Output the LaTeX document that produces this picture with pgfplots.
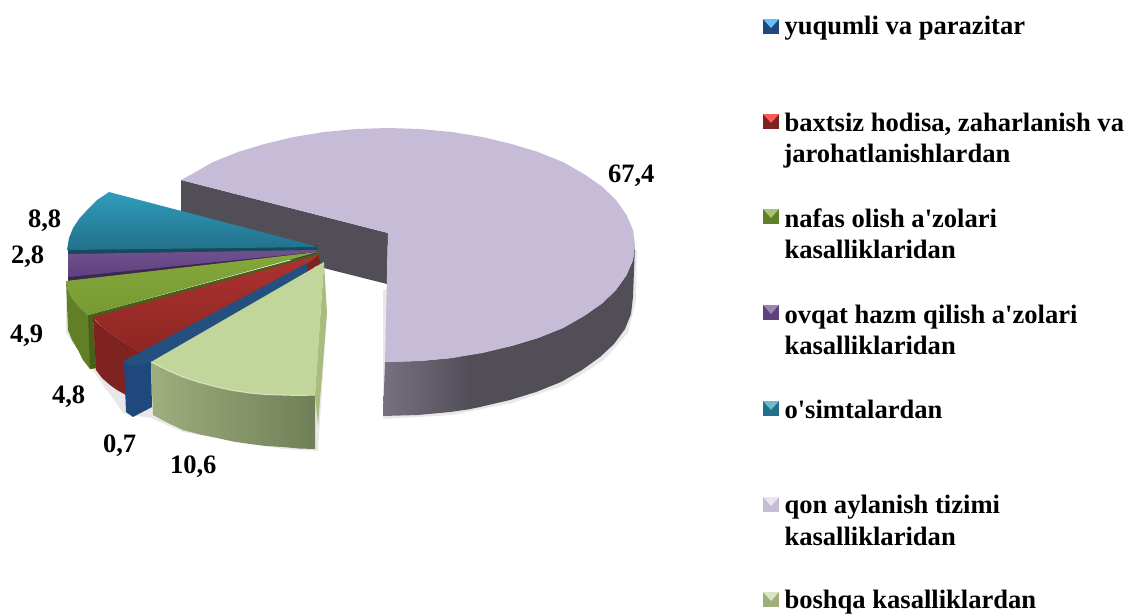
\documentclass[border=0pt]{standalone}
\usepackage{pgfplots}
\pgfplotsset{compat=1.18}
\usepackage{fontspec}
\setmainfont{Liberation Serif}
\definecolor{lavT}{HTML}{C7BCD8}
\definecolor{lavD}{HTML}{524E58}
\definecolor{lavL}{HTML}{76717F}
\definecolor{limT}{HTML}{C2D69B}
\definecolor{limS}{HTML}{A9BB7E}
\definecolor{limL}{HTML}{9EAE7C}
\definecolor{limD}{HTML}{717F58}
\definecolor{bluT}{HTML}{24507F}
\definecolor{bluS}{HTML}{1F497D}
\definecolor{redT}{HTML}{AD322F}
\definecolor{redB}{HTML}{8C2623}
\definecolor{redS}{HTML}{7E2320}
\definecolor{grnT}{HTML}{84A83A}
\definecolor{grnB}{HTML}{779A34}
\definecolor{grnS}{HTML}{617F26}
\definecolor{grnX}{HTML}{48601A}
\definecolor{purT}{HTML}{71508F}
\definecolor{purB}{HTML}{5F417F}
\definecolor{purX}{HTML}{3B2850}
\definecolor{teaT}{HTML}{2F9DBC}
\definecolor{teaB}{HTML}{23708A}
\definecolor{teaX}{HTML}{174A5A}
\tikzset{lab/.style={font=\bfseries\fontsize{20}{24}\selectfont, inner sep=0pt, outer sep=0pt, anchor=base west, text=black}}
\begin{document}
\begin{tikzpicture}
\begin{axis}[
  scale only axis, width=845.25bp, height=460.5bp,
  xmin=0, xmax=1127, ymin=0, ymax=614, y dir=reverse,
  hide axis, clip=false,
]
% invisible extent of the picture
\addplot[draw=none] coordinates {(0,0)(1127,614)};
% soft shadows
\addplot[fill=black!9, draw=none] coordinates {(637,250)(636,300)(628,333)(604,360)(565,385)(512,403)(452,415)(383,419)(383,290)} -- cycle;
\addplot[fill=black!9, draw=none] coordinates {(327,313)(318,451)(283,449)(183,432)(151,418)(124,414)(94,372)(66,333)(66,300)} -- cycle;
% lavender slice (qon aylanish tizimi) 67,4
\addplot[fill=lavD, draw=none] coordinates {(181,180)(388,233)(387,284)(181,232)} -- cycle;
\addplot[fill=lavD, draw=none] coordinates {(470,354)(511.5,346)(538,338)(563,328)(584,316)(602,303.5)(616,290)(626.6,275)(633,260)(635,245)(633,297)(631,314)(625,329)(614,344)(600,357)(582,370)(561,382)(536,392)(510,400)(480,407)(470,409)} -- cycle;
\addplot[left color=lavL, right color=lavD, draw=none] coordinates {(385,362)(420,361)(452,358)(471,354)(471,409)(450,412)(418,415)(383,416)} -- cycle;
\addplot[fill=lavT, draw=none] coordinates {(388,233)(181,180)(192,174)(213,162)(238,152)(264.5,144)(293.5,137)(324,132)(356,129)(388,128)(420,129)(452,132)(482.5,137)(511.5,144)(538,152)(563,162)(584,174)(602,186.5)(616,200)(626.6,215)(633,230)(635,245)(633,260)(626.6,275)(616,290)(602,303.5)(584,316)(563,328)(538,338)(511.5,346)(482.5,353)(452,358)(420,361)(385,362)} -- cycle;
% teal slice (o'simtalardan) 8,8
\addplot[fill=teaX, draw=none] coordinates {(68,248)(317,245)(317,251)(68,255)} -- cycle;
\addplot[top color=teaT, bottom color=teaB, draw=none] coordinates {(315,246)(109,192)(97,200)(87,210)(79,219)(73,228)(69,238)(67,250)(317,247)} -- cycle;
% purple slice (ovqat hazm qilish) 2,8
\addplot[fill=purX, draw=none] coordinates {(68,275)(316,250)(318,256)(68,283)} -- cycle;
\addplot[top color=purT, bottom color=purB, draw=none] coordinates {(68,254)(317,250)(316,252)(68,277)} -- cycle;
% green slice (nafas olish) 4,9
\addplot[fill=grnS, draw=none] coordinates {(66,281)(68,290)(72,298)(79,307)(88,315)(93,317)(96,368)(90,369)(83,360)(78,350)(72,340)(68,330)} -- cycle;
\addplot[fill=grnX, draw=none] coordinates {(88,315)(318,253)(320,260)(93,320)(96,368)(90,369)} -- cycle;
\addplot[top color=grnT, bottom color=grnB, draw=none] coordinates {(318,252)(66,281)(68,290)(72,298)(79,307)(88,315)} -- cycle;
% red slice (baxtsiz hodisa) 4,8
\addplot[fill=redS, draw=none] coordinates {(93,318)(101,326)(110,333)(123,342)(140,352)(140,398)(126,395)(117,390)(110,385)(102,378)(96,370)} -- cycle;
\addplot[top color=redT, bottom color=redB, draw=none] coordinates {(319,255)(93,317)(101,326)(110,333)(123,342)(138,351)(140,356)(307,268)} -- cycle;
\addplot[fill=redS, draw=none] coordinates {(319,255)(320,263)(307,273)(307,264)} -- cycle;
% blue slice (yuqumli va parazitar) 0,7
\addplot[fill=bluS, draw=none] coordinates {(124,361)(131,365)(151,362)(152,407)(133,417)(126,412)} -- cycle;
\addplot[fill=bluT, draw=none] coordinates {(124,361)(307,263)(307,273)(151,363)(131,366)} -- cycle;
% lime slice (boshqa) 10,6
\addplot[fill=limS, draw=none] coordinates {(324,262)(327,313)(318,425)(315,395)} -- cycle;
\addplot[left color=limL, right color=limD, draw=none] coordinates {(151,362)(167,370)(183,377)(200,382.5)(217,387)(233,390.5)(250,393)(266,394.5)(283,395)(299,395.5)(315,395)(315,449)(299,448.5)(283,447)(266,446)(250,444)(233,441.5)(217,438)(200,434.5)(183,430)(168,423)(153,415)} -- cycle;
\addplot[fill=limT, draw=none] coordinates {(324,262)(151,362)(167,370)(183,377)(200,382.5)(217,387)(233,390.5)(250,393)(266,394.5)(283,395)(299,395.5)(315,395)} -- cycle;
\addplot[draw=limT!60!white, line width=0.75pt] coordinates {(151,362)(167,370)(183,377)(200,382.5)(217,387)(233,390.5)(250,393)(266,394.5)(283,395)(299,395.5)(315,395)};
% legend swatches
\addplot[fill=bluS, draw=none] coordinates {(763,19)(779,19)(779,34)(763,34)} -- cycle;
\addplot[fill=blue!40!cyan!60!white, draw=none] coordinates {(763,19)(779,19)(771,28)} -- cycle;
\addplot[fill=redS, draw=none] coordinates {(763,114)(779,114)(779,129)(763,129)} -- cycle;
\addplot[fill=red!65!white, draw=none] coordinates {(763,114)(779,114)(771,123)} -- cycle;
\addplot[fill=grnS, draw=none] coordinates {(763,209)(779,209)(779,224)(763,224)} -- cycle;
\addplot[fill=grnT!70!white, draw=none] coordinates {(763,209)(779,209)(771,218)} -- cycle;
\addplot[fill=purB, draw=none] coordinates {(763,305)(779,305)(779,320)(763,320)} -- cycle;
\addplot[fill=purT!70!white, draw=none] coordinates {(763,305)(779,305)(771,314)} -- cycle;
\addplot[fill=teaB, draw=none] coordinates {(763,401)(779,401)(779,416)(763,416)} -- cycle;
\addplot[fill=teaT!70!white, draw=none] coordinates {(763,401)(779,401)(771,410)} -- cycle;
\addplot[fill=lavT, draw=none] coordinates {(763,497)(779,497)(779,512)(763,512)} -- cycle;
\addplot[fill=lavT!40!white, draw=none] coordinates {(763,497)(779,497)(771,506)} -- cycle;
\addplot[fill=limL, draw=none] coordinates {(763,592)(779,592)(779,607)(763,607)} -- cycle;
\addplot[fill=limT!60!white, draw=none] coordinates {(763,592)(779,592)(771,601)} -- cycle;
% data labels
\node[lab] at (axis cs:608,182) {67,4};
\node[lab] at (axis cs:28,227) {8,8};
\node[lab] at (axis cs:11,263) {2,8};
\node[lab] at (axis cs:10,342) {4,9};
\node[lab] at (axis cs:52,403) {4,8};
\node[lab] at (axis cs:103,452) {0,7};
\node[lab] at (axis cs:170,473) {10,6};
% legend text
\node[lab] at (axis cs:784.5,34) {yuqumli va parazitar};
\node[lab] at (axis cs:784.5,131) {baxtsiz hodisa, zaharlanish va};
\node[lab] at (axis cs:783.5,162) {jarohatlanishlardan};
\node[lab] at (axis cs:784.5,227) {nafas olish a\textquotesingle zolari};
\node[lab] at (axis cs:784.5,258) {kasalliklaridan};
\node[lab] at (axis cs:784.5,323) {ovqat hazm qilish a\textquotesingle zolari};
\node[lab] at (axis cs:784.5,354) {kasalliklaridan};
\node[lab] at (axis cs:784.5,418) {o\textquotesingle simtalardan};
\node[lab] at (axis cs:784.5,513) {qon aylanish tizimi};
\node[lab] at (axis cs:784.5,545) {kasalliklaridan};
\node[lab] at (axis cs:784.5,608) {boshqa kasalliklardan};
\end{axis}
\end{tikzpicture}
\end{document}
